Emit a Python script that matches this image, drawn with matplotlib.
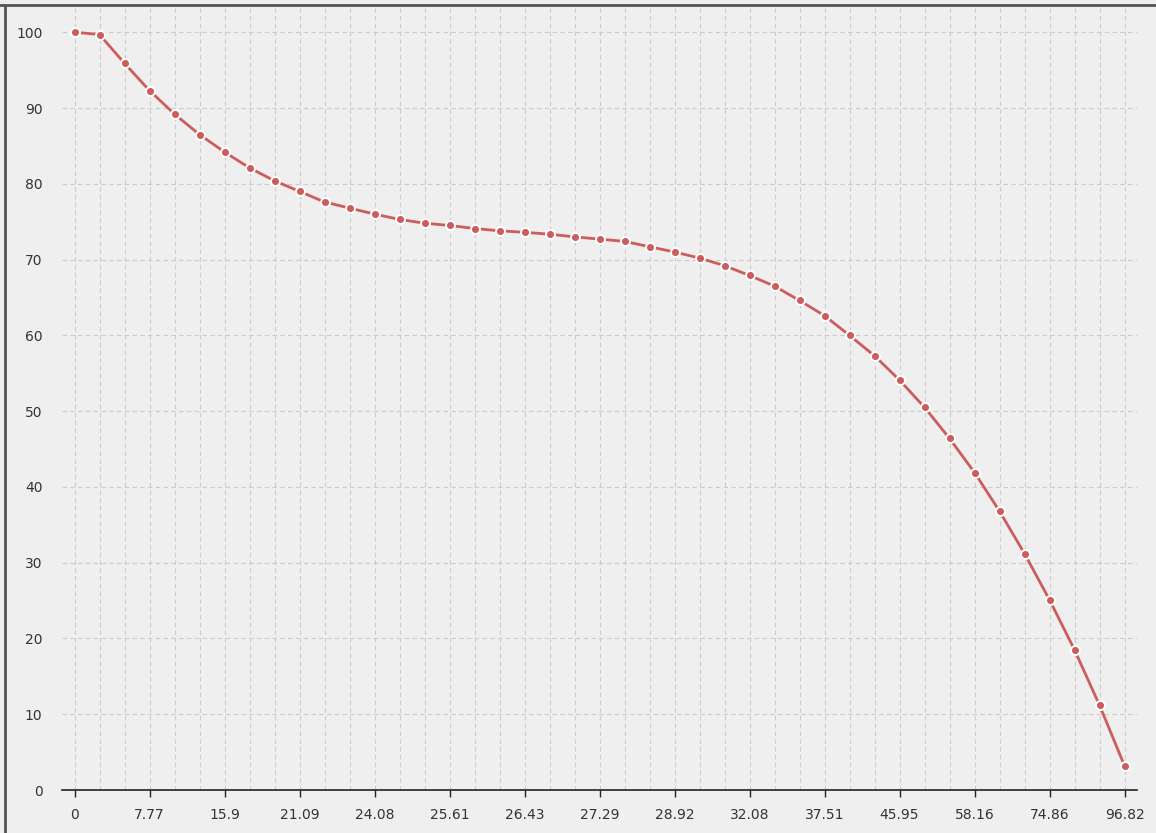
import matplotlib
matplotlib.use("Agg")
import matplotlib.pyplot as plt
from matplotlib.lines import Line2D

# x categories (only every third one gets a label)
x_labels = ['0', '7.77', '15.9', '21.09', '24.08', '25.61', '26.43', '27.29',
            '28.92', '32.08', '37.51', '45.95', '58.16', '74.86', '96.82']

# values, 43 points
values = [100.0, 99.7, 95.9, 92.3, 89.2, 86.5, 84.2, 82.1, 80.4, 79.0,
          77.6, 76.8, 76.0, 75.3, 74.8, 74.5, 74.1, 73.8, 73.6, 73.35,
          73.0, 72.7, 72.4, 71.7, 71.0, 70.2, 69.2, 67.9, 66.5, 64.6,
          62.6, 60.0, 57.3, 54.1, 50.5, 46.4, 41.9, 36.8, 31.2, 25.1,
          18.5, 11.2, 3.2]

bg = '#efefef'
line_col = '#cd5c5c'

fig = plt.figure(figsize=(11.56, 8.33), dpi=100)
fig.patch.set_facecolor(bg)
ax = fig.add_axes([62/1156, 43/833, 1075/1156, 782/833])
ax.set_facecolor(bg)

xs = list(range(len(values)))
ax.plot(xs, values, color=line_col, lw=2, marker='o', ms=6.5,
        markerfacecolor=line_col, markeredgecolor='white', markeredgewidth=1.4,
        zorder=3, clip_on=False)

ax.set_xlim(-0.5, len(values) - 0.5)
ax.set_ylim(0, 103.2)

# grid: vertical line at every point, horizontal every 10
for x in xs:
    ax.axvline(x, color='#cbcbcb', lw=0.8, ls=(0, (4, 3)), zorder=1)
for y in range(10, 101, 10):
    ax.axhline(y, color='#cbcbcb', lw=0.8, ls=(0, (4, 3)), zorder=1)

ax.set_xticks(xs[::3])
ax.set_xticklabels(x_labels)
ax.set_yticks(range(0, 101, 10))

for s in ['top', 'right', 'left']:
    ax.spines[s].set_visible(False)
ax.spines['bottom'].set_color('#222222')
ax.spines['bottom'].set_linewidth(1.2)
ax.tick_params(axis='x', length=5, width=1, color='#222222', pad=8,
               labelsize=10, labelcolor='#333333')
ax.tick_params(axis='y', length=0, pad=14, labelsize=10, labelcolor='#333333')

# outer frame lines (top and left)
fig.add_artist(Line2D([0, 1], [1 - 5/833, 1 - 5/833], transform=fig.transFigure,
                      color='#555555', lw=2))
fig.add_artist(Line2D([5/1156, 5/1156], [0, 1 - 5/833], transform=fig.transFigure,
                      color='#555555', lw=2))

fig.savefig('out.png', dpi=100, facecolor=bg)
